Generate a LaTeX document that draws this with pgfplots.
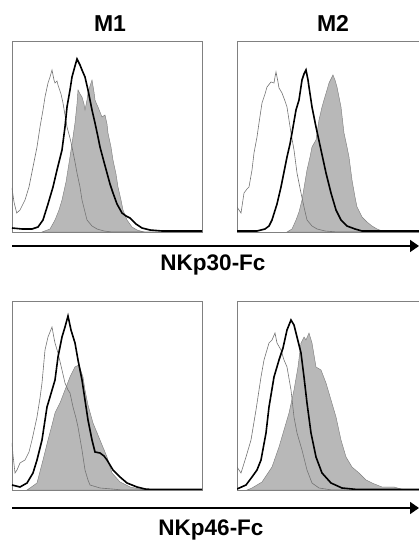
\documentclass[border=0pt]{standalone}
\usepackage{fontspec}
\setmainfont{Liberation Sans}
\usepackage{pgfplots}
\pgfplotsset{compat=1.18}
\usetikzlibrary{arrows.meta}
\pgfplotsset{
  histo/.style={scale only axis, width=190bp, xmin=0, xmax=190, ymin=0,
    xtick=\empty, ytick=\empty, axis line style={black!50, line width=0.6pt},
    anchor=south west, clip=true},
  filled/.style={fill=black!28, draw=black!50, line width=0.45pt},
  thin/.style={black!55, line width=0.6pt},
  thick/.style={black, line width=1.6pt},
}
\begin{document}
\begin{tikzpicture}
\useasboundingbox (0,0) rectangle (419bp,543bp);
\clip (0,0) rectangle (419bp,543bp);
% ---------- top left: M1, NKp30-Fc
\begin{axis}[histo, height=191bp, ymax=191, at={(12bp,311bp)}]
\addplot[filled] coordinates {(30,0) (38,3) (43,12) (47,22) (50,32) (54,50) (58,75) (61,95) (63,109) (65,128) (66,142) (68,138) (70,135) (72,128) (73,122) (75,132) (76,139) (78,146) (80,152) (82,140) (83,132) (85,127) (86,125) (88,120) (90,115) (93,117) (95,108) (96,99) (99,85) (101,72) (104,58) (106,45) (109,32) (111,22) (115,12) (120,5) (125,2) (132,0)} \closedcycle;
\addplot[thin] coordinates {(0,44) (2,30) (4.7,19) (8,22) (13,32) (17,45) (21,65) (25,85) (28,105) (31,122) (33,135) (36,149) (38,155) (40,162) (42,152) (43,149) (45,151) (46,147) (49,138) (51,129) (55,105) (58,94) (60,85) (63,70) (65,59) (68,45) (70,32) (73,20) (75,12) (80,6) (85,3) (92,1) (100,0) (190,0)};
\addplot[thick] coordinates {(0,4) (10,3) (20,3) (26,5) (31,12) (36,28) (41,45) (45,62) (50,82) (53,105) (55,125) (58,142) (60,155) (63,166) (65,173) (66,171) (68,167) (70,162) (73,155) (76,142) (78,132) (80,122) (83,109) (86,95) (88,85) (92,70) (95,59) (98,48) (101,39) (105,28) (110,19) (114,16) (118,14) (124,8) (130,4) (138,2) (150,1) (190,1)};
\end{axis}
% ---------- top right: M2, NKp30-Fc
\begin{axis}[histo, height=191bp, ymax=191, at={(237bp,311bp)}]
\addplot[filled] coordinates {(50,0) (55,3) (59,12) (62,20) (65,32) (70,62) (73,75) (75,85) (79,92) (82,112) (85,125) (87,132) (90,142) (92,149) (96,157) (98,152) (100,145) (104,125) (107,99) (110,85) (112,75) (115,52) (118,35) (120,25) (125,15) (130,10) (135,6) (140,3) (148,0)} \closedcycle;
\addplot[thin] coordinates {(0,25) (2,22) (4,19) (7,39) (10,43) (12,45) (15,62) (17,79) (20,95) (22,109) (25,129) (28,138) (30,145) (34,150) (37,149) (38,155) (39,160) (41,150) (42,144) (45,139) (48,131) (50,125) (52,112) (54,99) (57,82) (60,59) (64,39) (67,25) (70,12) (75,6) (80,3) (88,1) (100,0) (190,0)};
\addplot[thick] coordinates {(0,1) (20,1) (28,3) (32,6) (35,12) (40,28) (44,45) (47,60) (50,75) (53,88) (55,99) (59,122) (62,132) (65,152) (67,158) (69,162) (71,152) (72,145) (75,125) (79,105) (84,82) (89,59) (94,39) (99,22) (104,12) (110,6) (118,3) (125,1) (190,1)};
\end{axis}
% ---------- bottom left: M1, NKp46-Fc
\begin{axis}[histo, height=189bp, ymax=189, at={(12bp,53bp)}]
\addplot[filled] coordinates {(15,0) (18,2) (25,7) (31,30) (36,50) (40,65) (43,77) (48,87) (53,100) (58,113) (63,123) (67,125) (71,113) (73,100) (76,85) (81,67) (88,50) (95,33) (100,17) (108,8) (118,3) (128,1) (135,0)} \closedcycle;
\addplot[thin] coordinates {(0,47) (1,35) (3,17) (5,20) (8,27) (13,30) (17,38) (20,50) (25,73) (28,92) (30,107) (33,140) (36,153) (38,158) (40,163) (42,152) (43,147) (46,137) (50,120) (53,107) (56,100) (58,97) (61,83) (64,72) (66,63) (70,40) (73,20) (76,10) (78,5) (88,2) (100,1) (110,0) (190,0)};
\addplot[thick] coordinates {(0,5) (8,3) (15,7) (21,17) (25,30) (30,50) (35,83) (38,93) (43,110) (46,133) (50,153) (53,163) (56,174) (59,160) (63,147) (66,130) (70,110) (73,90) (76,70) (80,50) (83,38) (88,37) (92,34) (95,30) (101,20) (108,13) (115,7) (125,3) (133,1) (140,0.5) (190,0.5)};
\end{axis}
% ---------- bottom right: M2, NKp46-Fc
\begin{axis}[histo, height=189bp, ymax=189, at={(237bp,53bp)}]
\addplot[filled] coordinates {(10,0) (15,2) (25,8) (35,23) (42,43) (47,60) (52,77) (57,100) (61,123) (64,147) (67,153) (69,150) (72,157) (75,147) (79,123) (84,120) (89,107) (94,90) (99,73) (104,50) (109,33) (115,23) (122,17) (129,10) (135,7) (145,3) (157,3) (164,1) (170,0)} \closedcycle;
\addplot[thin] coordinates {(0,23) (4,17) (9,33) (14,50) (19,80) (24,113) (27,130) (32,147) (35,150) (38,157) (40,147) (44,140) (47,130) (50,123) (54,100) (57,73) (60,57) (65,40) (70,20) (75,7) (82,2) (95,0) (190,0)};
\addplot[thick] coordinates {(0,1) (9,5) (15,13) (20,20) (24,30) (29,57) (32,83) (37,113) (42,130) (46,142) (50,160) (54,170) (57,165) (60,153) (64,137) (67,113) (70,87) (74,57) (79,33) (85,17) (94,7) (105,2) (120,0.5) (190,0.5)};
\end{axis}
% ---------- titles, arrows and axis labels
\node[font=\bfseries\fontsize{23bp}{26bp}\selectfont] at (110bp,519.5bp) {M1};
\node[font=\bfseries\fontsize{23bp}{26bp}\selectfont] at (333bp,519.5bp) {M2};
\draw[line width=1.6bp, -{Triangle[length=9bp,width=12bp]}] (12bp,297bp) -- (419bp,297bp);
\draw[line width=1.6bp, -{Triangle[length=9bp,width=12bp]}] (12bp,35bp) -- (419bp,35bp);
\node[font=\bfseries\fontsize{22.5bp}{26bp}\selectfont] at (213bp,278bp) {NKp30-Fc};
\node[font=\bfseries\fontsize{22.5bp}{26bp}\selectfont] at (211bp,13bp) {NKp46-Fc};
\end{tikzpicture}
\end{document}
